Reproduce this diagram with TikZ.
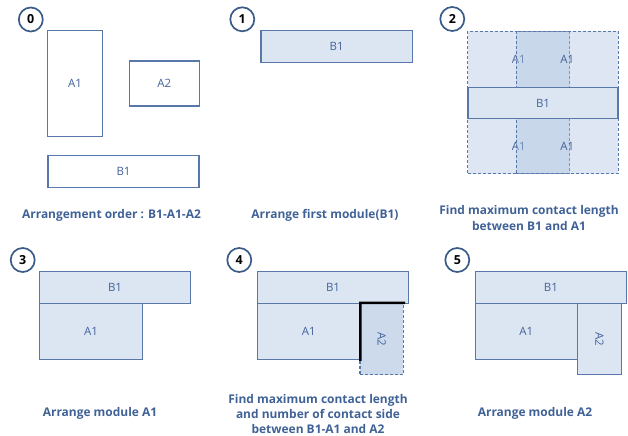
\documentclass[tikz,border=0pt]{standalone}
\usepackage{fontspec}
\setmainfont{Open Sans}
\definecolor{modline}{HTML}{5878AA}
\definecolor{modfill}{HTML}{DCE6F2}
\definecolor{ghostc}{RGB}{172,194,223}
\definecolor{labc}{HTML}{42629A}
\definecolor{capc}{HTML}{3F6196}
\definecolor{circc}{HTML}{3B5C88}
\begin{document}
\begin{tikzpicture}[x=1bp,y=-1bp,
  box/.style={draw=modline, line width=1.2bp, inner sep=0pt, text=labc,
    font=\fontsize{11.5}{12}\selectfont},
  outline/.style={box, fill=white},
  placed/.style={box, fill=modfill},
  ghost/.style={box, dashed, dash pattern=on 3bp off 2bp, fill=ghostc,
    fill opacity=0.41, text opacity=1},
  lab/.style={text=labc, font=\fontsize{11.5}{12}\selectfont, inner sep=0pt},
  stepnum/.style={circle, draw=circc, line width=1.7bp, minimum size=24bp,
    inner sep=0pt, font=\fontsize{12.5}{13}\selectfont\bfseries},
  caption/.style={text=capc, align=center,
    font=\fontsize{12}{15.5}\selectfont\bfseries},
  contact/.style={line width=2.4bp, black, line cap=rect}]
\useasboundingbox (0,0) rectangle (628,436);

% step 0: modules to be placed
\node[stepnum] (n0) at (30.8,19.5) {0};
\node[outline, minimum width=54.6, minimum height=106] (p0a1) at (75,83.7) {A1};
\node[outline, minimum width=70.3, minimum height=45] (p0a2) at (164.2,83.5) {A2};
\node[outline, minimum width=151.6, minimum height=32.3] (p0b1) at (123.5,171.2) {B1};
\node[caption] (c0) at (111.5,215) {Arrangement order : B1-A1-A2};

% step 1: first module
\node[stepnum] (n1) at (242.3,19.3) {1};
\node[placed, minimum width=152, minimum height=32] (p1b1) at (336.7,46.7) {B1};
\node[caption] (c1) at (325,215) {Arrange first module(B1)};

% step 2: candidate positions of A1 around B1
\node[stepnum] (n2) at (452.3,19) {2};
\node[ghost, minimum width=102.3, minimum height=56.3] (p2ul) at (518.85,59.15) {A1};
\node[ghost, minimum width=102.3, minimum height=56.3] (p2ur) at (567.15,59.15) {A1};
\node[ghost, minimum width=102.3, minimum height=55.3] (p2ll) at (518.85,146.35) {A1};
\node[ghost, minimum width=102.3, minimum height=55.3] (p2lr) at (567.15,146.35) {A1};
\node[placed, minimum width=150.6, minimum height=31.4] (p2b1) at (543,103) {B1};
\node[caption] (c2) at (529,218) {Find maximum contact length\\between B1 and A1};

% step 3: A1 placed
\node[stepnum] (n3) at (22.7,260) {3};
\node[placed, minimum width=151.4, minimum height=31.6] (p3b1) at (115,287.5) {B1};
\node[placed, minimum width=103.4, minimum height=56] (p3a1) at (91,331.3) {A1};
\node[caption] (c3) at (100,413) {Arrange module A1};

% step 4: contact sides for A2
\node[stepnum] (n4) at (239.3,260) {4};
\node[placed, minimum width=151.4, minimum height=31.6] (p4b1) at (333,287.5) {B1};
\node[placed, minimum width=102.7, minimum height=56] (p4a1) at (308.65,331.3) {A1};
\node[ghost, fill opacity=0.6, minimum width=43.3, minimum height=71.7,
  label={[lab, rotate=-90]center:A2}] (p4a2) at (381.65,339.15) {};
\draw[contact] (p4a1.south east) -- (p4a1.north east) -- (p4a2.north east);
\node[caption] (c4) at (318,414) {Find maximum contact length\\and number of contact side\\between B1-A1 and A2};

% step 5: A2 placed
\node[stepnum] (n5) at (457.3,260) {5};
\node[placed, minimum width=151.7, minimum height=31.6] (p5b1) at (550.85,287.5) {B1};
\node[placed, minimum width=102.3, minimum height=56] (p5a1) at (526.15,331.3) {A1};
\node[placed, minimum width=44.4, minimum height=71.7,
  label={[lab, rotate=-90]center:A2}] (p5a2) at (599.5,339.15) {};
\node[caption] (c5) at (535,413) {Arrange module A2};
\end{tikzpicture}
\end{document}
